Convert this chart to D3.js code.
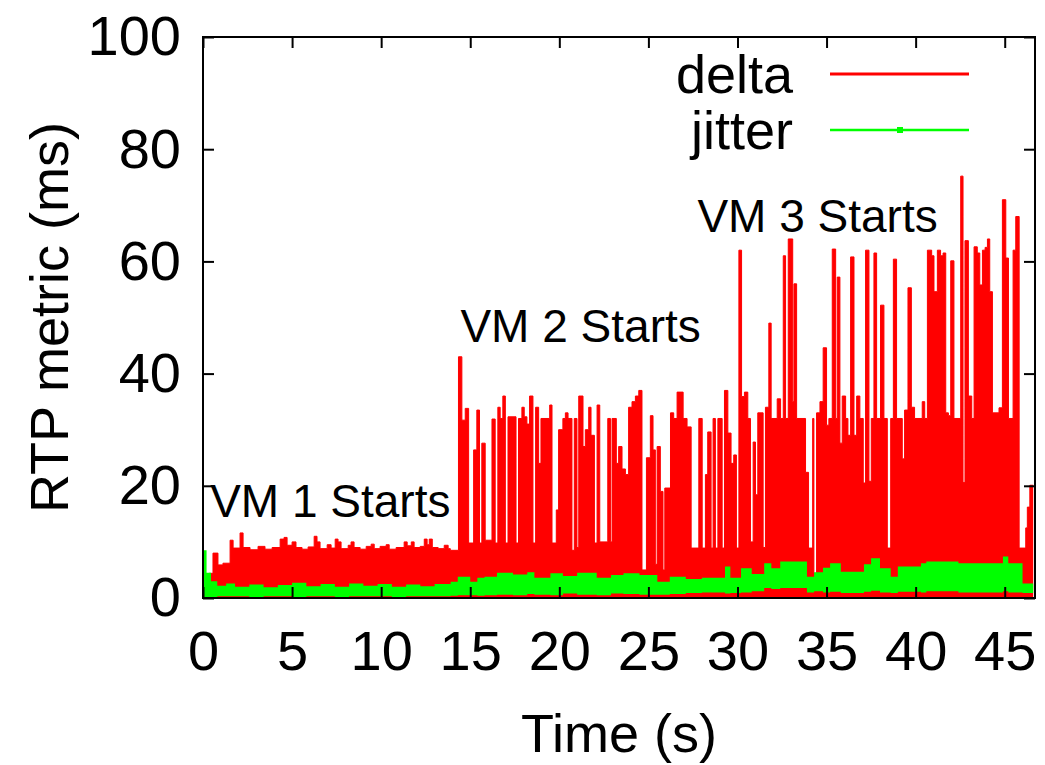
<!DOCTYPE html>
<html>
<head>
<meta charset="utf-8">
<script src="https://cdn.jsdelivr.net/npm/d3@7"></script>
<style>
  body { margin: 0; background: #fff; }
  text { font-family: "Liberation Sans", Arial, Helvetica, sans-serif; fill: #000; }
</style>
</head>
<body>
<script>
// delta: step series (time in s, value in ms)
const deltaTime = [
  0, 0.34, 0.56, 0.84, 1.12, 1.52, 1.69, 2.08, 2.25, 2.64, 3.09, 3.48, 3.88, 4.33, 4.55, 4.72, 5.0, 5.22, 5.56, 5.9,
  6.24, 6.4, 6.57, 6.97, 7.19, 7.42, 7.58, 7.75, 8.15, 8.31, 8.48, 8.82, 9.16, 9.44, 9.61, 9.94, 10.28, 10.45, 10.84, 11.29,
  11.46, 11.69, 11.85, 12.19, 12.42, 12.58, 12.7, 12.87, 13.2, 13.54, 13.76,
  13.88, 14.34, 14.53, 14.72, 14.91, 15.19, 15.37, 15.52, 15.65, 15.84, 16.22, 16.4, 16.55, 16.68, 16.83, 16.97, 17.12, 17.57, 17.71, 17.9,
  18.03, 18.18, 18.33, 18.52, 18.67, 18.84, 18.97, 19.46, 19.59, 19.83, 19.96, 20.2, 20.34, 20.49, 20.71, 20.84, 20.99, 21.09, 21.33, 21.46,
  21.65, 21.78, 21.97, 22.12, 22.27, 22.72, 22.87, 22.96, 23.2, 23.33, 23.52, 23.71, 23.89, 24.08, 24.27, 24.46, 24.64, 24.89,
  25.11, 25.26, 25.39, 25.49, 25.67, 25.82, 25.92, 26.24, 26.42, 26.61, 26.95, 27.17, 27.4, 27.83, 28.02, 28.2, 28.33, 28.52, 28.63, 28.76,
  28.9, 29.14, 29.27, 29.46, 29.64, 29.79, 29.94, 30.08, 30.23, 30.39, 30.58, 30.73, 30.88, 31.01, 31.14, 31.44, 31.57, 31.76, 31.89, 32.23,
  32.42, 32.57, 32.7, 32.85, 33.1, 33.17, 33.32, 33.82, 33.99, 34.22, 34.29, 34.44, 34.63,
  34.81, 35.0, 35.13, 35.32, 35.51, 35.6, 35.75, 35.88, 36.07, 36.2, 36.35, 36.54, 36.69, 36.87, 37.06, 37.19, 37.38, 37.51, 37.66, 37.81,
  38.03, 38.22, 38.41, 38.6, 38.75, 38.93, 39.25, 39.38, 39.57, 39.76, 39.94, 40.37, 40.51, 40.66,
  40.9, 41.03, 41.22, 41.4, 41.54, 41.69, 41.84, 41.97, 42.15, 42.53, 42.66, 42.77, 42.96, 43.15, 43.28, 43.46, 43.6, 43.75, 43.9, 44.03,
  44.16, 44.31, 44.68, 44.87, 45.06, 45.21, 45.47, 45.62, 45.81, 46.18, 46.27, 46.41, 46.6
]
const deltaValue = [
  3.0, 4.4, 8.0, 5.9, 6.2, 10.3, 8.9, 11.6, 9.0, 8.6, 9.2, 8.7, 9.0, 10.5, 10.8, 9.4, 10.0, 9.0, 8.7, 9.1,
  11.0, 10.0, 8.8, 9.5, 8.9, 10.5, 10.0, 8.8, 9.4, 10.0, 9.0, 8.7, 9.2, 9.6, 8.8, 9.2, 9.5, 8.7, 9.0, 10.0,
  9.3, 10.0, 9.0, 9.2, 10.5, 9.5, 10.5, 9.0, 8.8, 9.4, 8.8,
  8.5, 43, 31.7, 33.8, 9.8, 26.4, 33.5, 9.8, 27.6, 10.3, 31.9, 9.8, 34, 32, 36, 9.8, 32.3, 9.8, 32, 34,
  32.3, 31, 36, 9.8, 34, 24, 32, 34.4, 9.8, 15.7, 30, 32, 33, 32, 8.5, 32, 9, 36, 27, 30,
  34, 29, 9.8, 34.4, 10, 32, 10, 32, 24, 27, 23, 22, 34, 35, 36, 37, 5, 25,
  32.5, 26.4, 6, 27, 19, 5, 19.6, 33, 32, 36.7, 32, 30.5, 8.9, 32, 8.9, 22, 29.6, 8.9, 32, 8.9,
  32, 8.9, 37, 29.4, 24, 25.5, 8.9, 62, 35.9, 36.7, 32, 10, 27.8, 18.4, 33, 9, 34, 49, 32, 35.5,
  32, 61, 32, 64, 35, 56, 32, 22.4, 8.9, 32, 4.4, 33, 35,
  44.6, 30.8, 32, 62.2, 32, 57.2, 27.6, 36, 32, 29, 60.8, 29, 36, 32, 20.5, 62, 20.8, 32, 61.5, 32,
  52.2, 32, 8.9, 32, 60.4, 32, 24.8, 33.5, 55.3, 34, 32, 35, 32, 62,
  61, 54.6, 62, 61, 61.5, 33, 32.5, 60.1, 32, 75.2, 20.6, 63.7, 36, 32, 62.6, 61.5, 55.8, 62, 62.5, 64,
  54.6, 33, 33.9, 71, 60.6, 32, 62, 68, 8.9, 12.5, 16.2, 20.1, 20.1
]

// jitter: band between a lower and upper edge
const jitterTime = [
  0, 0.2, 0.45, 0.8, 1.3, 1.8, 2.6, 3.4, 4.2, 5.0, 5.8, 6.6, 7.4, 8.2, 9.0, 9.8, 10.6, 11.4, 12.2, 13.0,
  13.9, 14.3, 15.0, 15.4, 15.8, 16.5, 17.4, 18.2, 18.6, 19.5, 20.2, 21.0, 22.1, 22.9, 23.6, 24.5, 25.5, 26.2, 27.1, 28.0,
  29.3, 29.6, 30.2, 30.8, 31.5, 31.9, 32.4, 33.9, 34.3, 34.8, 35.2, 35.8, 37.1, 37.5, 38.0, 38.6, 39.0, 40.3, 40.6, 42.4,
  44.9, 45.2, 46.0, 46.6
]
const jitterHigh = [
  8.5, 4.5, 3.0, 2.2, 2.6, 2.0, 2.4, 1.9, 2.3, 2.7, 2.1, 2.5, 2.0, 2.6, 2.2, 2.5, 2.0, 2.4, 2.1, 2.5,
  2.9, 3.8, 2.9, 3.6, 3.8, 4.5, 4.2, 4.6, 3.6, 4.4, 3.9, 4.5, 3.6, 4.1, 4.4, 4.1, 2.9, 3.8, 3.4, 3.6,
  5.6, 3.6, 5.3, 4.3, 6.2, 5.3, 6.5, 3.8, 4.6, 5.4, 6.2, 4.7, 6.0, 7.1, 5.3, 3.8, 5.6, 6.2, 6.5, 6.2,
  7.4, 6.2, 2.6, 2.6
]
const jitterLow = [
  0, 0, 0.2, 0.3, 0.3, 0.3, 0.2, 0.3, 0.3, 0.2, 0.3, 0.3, 0.2, 0.3, 0.3, 0.3, 0.2, 0.3, 0.3, 0.3,
  0.4, 0.5, 0.5, 0.4, 0.5, 0.6, 0.5, 0.7, 0.6, 0.5, 0.8, 0.6, 0.5, 0.8, 0.7, 0.6, 0.6, 0.7, 0.9, 1.0,
  0.8, 0.9, 1.0, 1.2, 1.8, 1.6, 1.8, 1.0, 1.2, 1.0, 1.1, 0.9, 1.1, 1.3, 1.0, 0.9, 1.1, 1.0, 1.2, 1.0,
  1.2, 1.0, 0.9, 0.9
]

const xTicks = [0, 5, 10, 15, 20, 25, 30, 35, 40, 45]
const yTicks = [0, 20, 40, 60, 80, 100]

const seriesNames = ["delta", "jitter"]
const seriesColors = ["#ff0000", "#00ff00"]

const vmLabels = ["VM 1 Starts", "VM 2 Starts", "VM 3 Starts"]
const vmLabelTime = [0.4, 14.45, 27.75]
const vmLabelValue = [14.4, 45.6, 65.2]

const doPlot = () => {
  const w = 1045
  const h = 765
  const left = 203, right = 1035, top = 37, bottom = 598

  const svg = d3.select("body").append("svg").attr("width", w).attr("height", h)

  const x = d3.scaleLinear().domain([0, 46.7]).range([left, right])
  const y = d3.scaleLinear().domain([0, 100]).range([bottom, top])

  svg.append("clipPath").attr("id", "plot-clip")
    .append("rect").attr("x", left).attr("y", top)
    .attr("width", right - left).attr("height", bottom - top)

  const plot = svg.append("g").attr("clip-path", "url(#plot-clip)")

  const delta = deltaTime.map((t, i) => ({ t, v: deltaValue[i] }))
  const jitter = jitterTime.map((t, i) => ({ t, hi: jitterHigh[i], lo: jitterLow[i] }))

  // delta: the dense line fills the band under its envelope
  plot.append("path")
    .datum(delta)
    .attr("fill", seriesColors[0])
    .attr("d", d3.area().curve(d3.curveStepAfter)
      .x((d) => x(d.t)).y0(y(0)).y1((d) => y(d.v)))

  plot.append("path")
    .datum(delta)
    .attr("fill", "none")
    .attr("stroke", seriesColors[0])
    .attr("stroke-width", 1)
    .attr("d", d3.line().curve(d3.curveStepAfter).x((d) => x(d.t)).y((d) => y(d.v)))

  plot.append("path")
    .datum(jitter)
    .attr("fill", seriesColors[1])
    .attr("d", d3.area().curve(d3.curveStepAfter)
      .x((d) => x(d.t)).y0((d) => y(d.lo)).y1((d) => y(d.hi)))

  // axes, ticks pointing inward on all four sides
  const tk = 11
  const axisStyle = (g) => {
    g.select(".domain").remove()
    g.selectAll(".tick line").attr("stroke", "#000").attr("stroke-width", 2)
    g.selectAll("text").style("font-family", "'Liberation Sans', Arial, sans-serif").style("font-size", "56px").attr("fill", "#000")
  }

  svg.append("g").attr("transform", `translate(0,${bottom})`)
    .call(d3.axisBottom(x).tickValues(xTicks).tickSize(-tk).tickPadding(32))
    .call(axisStyle)
  svg.append("g").attr("transform", `translate(0,${top})`)
    .call(d3.axisTop(x).tickValues(xTicks).tickSize(-tk).tickFormat(""))
    .call(axisStyle)
  svg.append("g").attr("transform", `translate(${left},0)`)
    .call(d3.axisLeft(y).tickValues(yTicks).tickSize(-tk).tickPadding(22))
    .call(axisStyle)
  svg.append("g").attr("transform", `translate(${right},0)`)
    .call(d3.axisRight(y).tickValues(yTicks).tickSize(-tk).tickFormat(""))
    .call(axisStyle)

  svg.append("rect")
    .attr("x", left).attr("y", top)
    .attr("width", right - left).attr("height", bottom - top)
    .attr("fill", "none").attr("stroke", "#000").attr("stroke-width", 2)

  // annotations
  svg.selectAll(".vm-label")
    .data(vmLabels)
    .enter()
    .append("text")
    .attr("class", "vm-label")
    .attr("x", (d, i) => x(vmLabelTime[i]))
    .attr("y", (d, i) => y(vmLabelValue[i]))
    .style("font-size", "46px")
    .text((d) => d)

  // axis titles
  svg.append("text")
    .attr("x", (left + right) / 2)
    .attr("y", 752)
    .attr("text-anchor", "middle")
    .style("font-size", "54px")
    .text("Time (s)")

  svg.append("text")
    .attr("transform", `translate(68,${(top + bottom) / 2}) rotate(-90)`)
    .attr("text-anchor", "middle")
    .style("font-size", "54px")
    .text("RTP metric (ms)")

  // legend
  const legend = svg.append("g").attr("id", "legend")
  const legendRows = [74, 130]
  legend.selectAll("text")
    .data(seriesNames)
    .enter()
    .append("text")
    .attr("x", 793)
    .attr("y", (d, i) => legendRows[i])
    .attr("dy", "0.35em")
    .attr("text-anchor", "end")
    .style("font-size", "54px")
    .text((d) => d)

  legend.selectAll("line")
    .data(seriesNames)
    .enter()
    .append("line")
    .attr("x1", 830).attr("x2", 969)
    .attr("y1", (d, i) => legendRows[i]).attr("y2", (d, i) => legendRows[i])
    .attr("stroke", (d, i) => seriesColors[i])
    .attr("stroke-width", (d, i) => (i === 0 ? 3 : 2.5))

  legend.append("rect")
    .attr("x", 897).attr("y", legendRows[1] - 3)
    .attr("width", 6).attr("height", 6)
    .attr("fill", seriesColors[1])
}
doPlot()
</script>
</body>
</html>
